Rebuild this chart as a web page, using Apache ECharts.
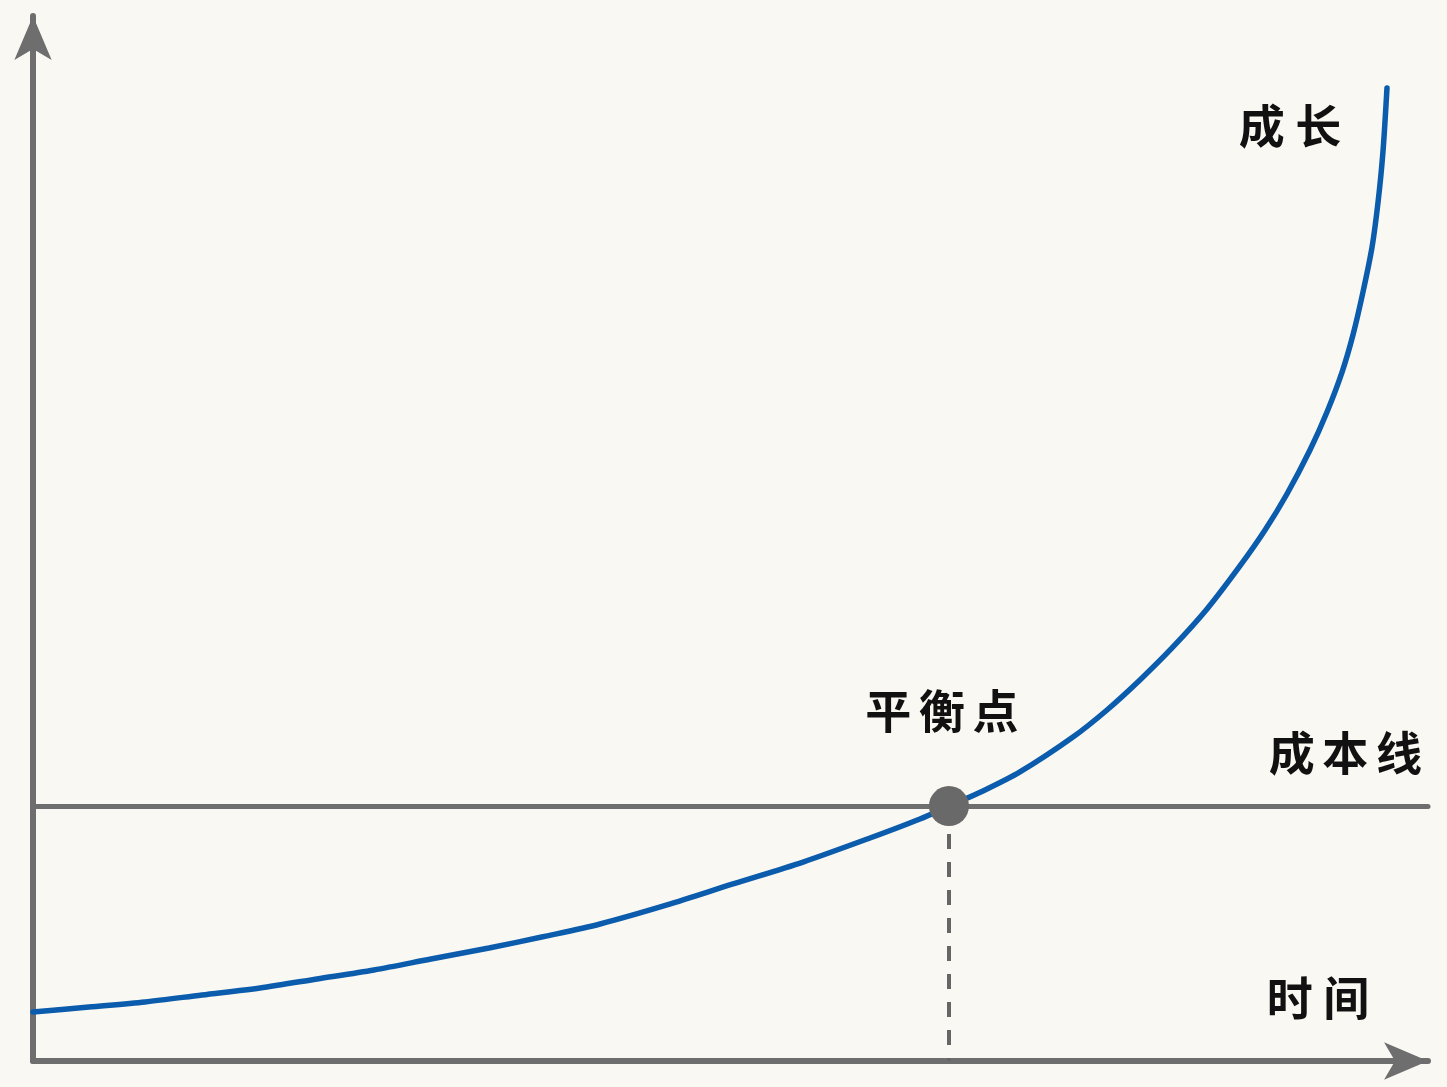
<!DOCTYPE html>
<html>
<head>
<meta charset="utf-8">
<script src="https://cdn.jsdelivr.net/npm/echarts@6/dist/echarts.min.js"></script>
<style>
  html, body { margin: 0; padding: 0; background: #faf8f2; }
  #chart { width: 1447px; height: 1087px; }
</style>
</head>
<body>
<div id="chart"></div>
<script>
// ---- data (abstract units: x 0..100, y 0..100) ----
const growthX = [0, 4.01, 8.03, 12.11, 16.27, 20.36, 24.44, 28.53, 32.69, 36.63, 40.65, 45.45, 50.18, 55.20, 60.00, 63.58, 65.66, 68.10, 70.75, 74.55, 76.99, 79.35, 81.72, 84.16, 86.52, 88.32, 89.89, 91.54, 92.76, 93.84, 94.62, 95.34, 95.99, 96.42, 96.77, 97.06];
const growthY = [4.69, 5.17, 5.65, 6.32, 6.99, 7.85, 8.71, 9.76, 10.81, 11.91, 13.11, 14.93, 16.94, 19.04, 21.34, 23.16, 24.40, 25.84, 27.66, 31.00, 33.59, 36.46, 39.62, 43.25, 47.37, 50.81, 54.26, 58.47, 62.11, 65.93, 69.47, 73.59, 77.89, 82.20, 86.99, 93.11];
const costLevel = 24.4;
const breakEvenX = 65.66;
const labelGrowth = '成 长';
const labelCost = '成\u2006本\u2006线';
const labelBreak = '平\u2006衡\u2006点';
const labelTime = '时 间';

const FONT = "'Noto Sans CJK SC', sans-serif";
const FONT_WEIGHT = 'bold';
const AXIS_COLOR = '#6e6e6e';
const TEXT_COLOR = '#111111';

const chart = echarts.init(document.getElementById('chart'));

const axisCommon = {
  type: 'value',
  min: 0,
  max: 100,
  axisLine: {
    show: true,
    symbol: ['none', 'arrow'],
    symbolSize: [28, 44],
    lineStyle: { color: AXIS_COLOR, width: 6 }
  },
  axisTick: { show: false },
  axisLabel: { show: false },
  splitLine: { show: false }
};

const option = {
  backgroundColor: '#faf8f2',
  animation: false,
  grid: { left: 33, right: 19, top: 16, bottom: 26, outerBoundsMode: 'none', containLabel: false },
  xAxis: Object.assign({}, axisCommon, {
    name: labelTime,
    nameLocation: 'end',
    nameGap: -110,
    nameTextStyle: {
      fontFamily: FONT, fontSize: 46, fontWeight: FONT_WEIGHT, color: TEXT_COLOR,
      align: 'center', verticalAlign: 'bottom', padding: [0, 0, 40, 0]
    }
  }),
  yAxis: Object.assign({}, axisCommon),
  series: [
    {
      name: 'growth',
      type: 'line',
      data: growthX.map((x, i) => [x, growthY[i]]),
      smooth: 0.3,
      showSymbol: false,
      silent: true,
      lineStyle: { color: '#0b5cad', width: 5.5, cap: 'round' },
      z: 3,
      markPoint: {
        silent: true,
        symbol: 'circle',
        symbolSize: 1,
        itemStyle: { color: 'rgba(0,0,0,0)' },
        label: {
          show: true, position: 'inside', formatter: labelGrowth,
          fontFamily: FONT, fontSize: 46, fontWeight: FONT_WEIGHT, color: TEXT_COLOR, offset: [-97, 38]
        },
        data: [{ coord: [growthX[growthX.length - 1], growthY[growthY.length - 1]] }]
      }
    },
    {
      name: 'breakeven',
      type: 'scatter',
      data: [[breakEvenX, costLevel]],
      symbol: 'circle',
      symbolSize: 40,
      silent: true,
      z: 5,
      itemStyle: { color: '#696969', opacity: 1 },
      label: {
        show: true, position: 'top', distance: 53, offset: [-7, 0],
        formatter: labelBreak,
        fontFamily: FONT, fontSize: 46, fontWeight: FONT_WEIGHT, color: TEXT_COLOR
      },
      markLine: {
        silent: true,
        symbol: ['none', 'none'],
        z: 1,
        data: [
          {
            yAxis: costLevel,
            lineStyle: { color: AXIS_COLOR, width: 5, type: 'solid', cap: 'round' },
            label: {
              show: true, position: 'insideEndTop', distance: [6, 31],
              formatter: labelCost,
              fontFamily: FONT, fontSize: 46, fontWeight: FONT_WEIGHT, color: TEXT_COLOR
            }
          },
          [
            {
              coord: [breakEvenX, costLevel],
              lineStyle: { color: '#666666', width: 4, type: [15, 13] },
              label: { show: false }
            },
            { coord: [breakEvenX, 0] }
          ]
        ]
      }
    }
  ]
};

chart.setOption(option);
</script>
</body>
</html>
